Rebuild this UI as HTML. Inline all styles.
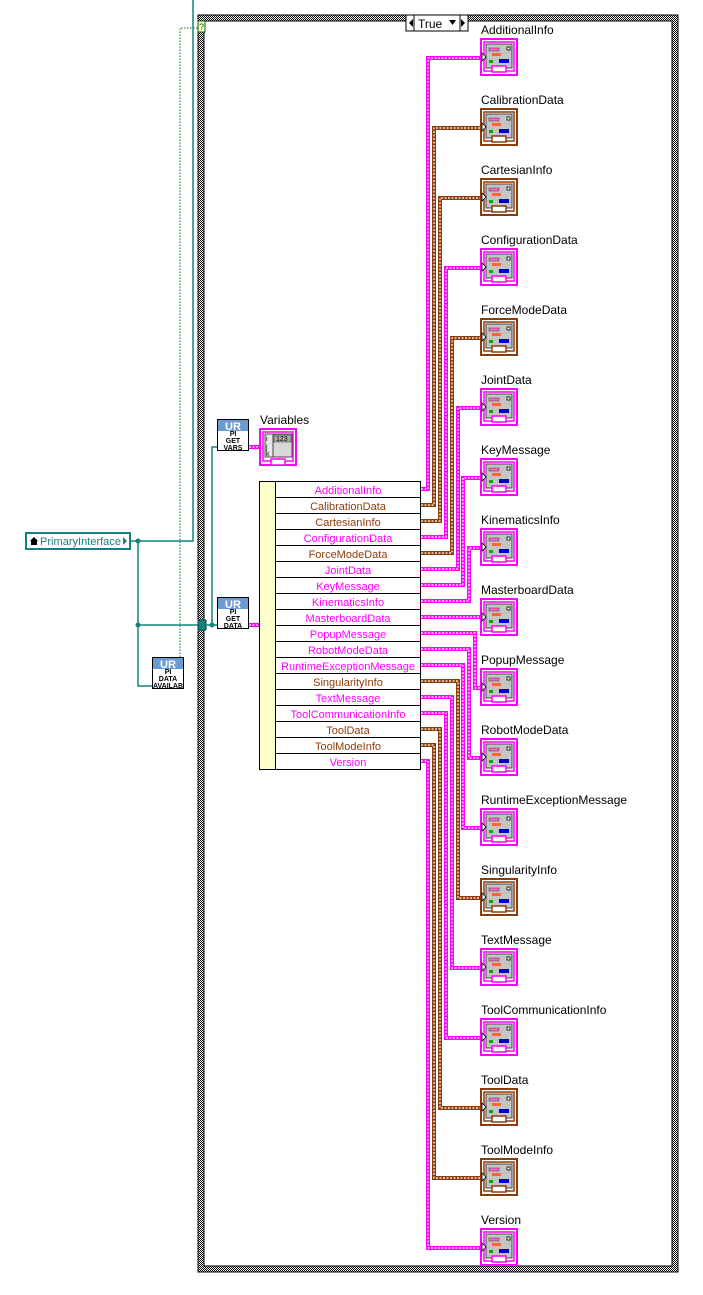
<!DOCTYPE html>
<html><head><meta charset="utf-8"><style>
html,body{margin:0;padding:0;background:#fff;width:703px;height:1295px;overflow:hidden}
text{font-family:"Liberation Sans",sans-serif}
</style></head><body>
<svg width="703" height="1295" viewBox="0 0 703 1295" xmlns="http://www.w3.org/2000/svg">
<defs>
<pattern id="chk" width="2" height="2" patternUnits="userSpaceOnUse"><rect width="2" height="2" fill="#fff"/><rect width="1" height="1" fill="#000"/><rect x="1" y="1" width="1" height="1" fill="#000"/></pattern>
<g id="ico">
<rect x="1" y="1" width="36" height="36" fill="#fff" stroke="currentColor" stroke-width="2"/>
<rect x="4" y="4" width="30" height="29" fill="none" stroke="currentColor" stroke-width="1.5"/>
<rect x="6" y="6" width="26" height="24" fill="#c4c4c4" stroke="#444" stroke-width="1"/>
<rect x="9" y="10" width="10" height="3" fill="#ff66cc" stroke="#333" stroke-width="0.5"/>
<rect x="27" y="9" width="3" height="3" fill="#fff" stroke="#000" stroke-width="0.8"/>
<rect x="12" y="15" width="9" height="3" fill="#ff6633"/>
<rect x="9" y="22" width="4" height="3" fill="#00aa00"/>
<rect x="19" y="21" width="10" height="4" fill="#0000cc"/>
<rect x="12" y="28" width="14" height="6" fill="#fff" stroke="currentColor" stroke-width="1.5"/>
<path d="M2,15 L6,19 L2,23 Z" fill="#fff" stroke="#000" stroke-width="0.8"/>
</g>
<g id="ur">
<rect x="0.5" y="0.5" width="31" height="31" fill="#fff" stroke="#000"/>
<rect x="1" y="1" width="30" height="11" fill="#6b9bd1"/>
<text x="16" y="11" font-size="11" font-weight="bold" fill="#fff" text-anchor="middle">UR</text>
</g>
</defs>

<path d="M193,0 V541 H130" fill="none" stroke="#17807a" stroke-width="1.5"/>
<path d="M138,541 V686 H152 M138,625 H200" fill="none" stroke="#17807a" stroke-width="1.5"/>
<circle cx="138" cy="541" r="2.5" fill="#17807a"/><circle cx="138" cy="625" r="2.5" fill="#17807a"/>
<path d="M180,657 V28 H199" fill="none" stroke="#008000" stroke-width="1" stroke-dasharray="1.5 1.5"/>

<rect x="198" y="15" width="480" height="1257" fill="url(#chk)" stroke="#000"/>
<rect x="204" y="21" width="468" height="1245" fill="#fff" stroke="#000"/>
<rect x="198" y="21" width="7" height="11" fill="#ffffcc" stroke="#006000"/>
<text x="201.5" y="30" font-size="9" fill="#006000" text-anchor="middle">?</text>
<rect x="406" y="15" width="62" height="16" fill="#fff" stroke="#000"/>
<line x1="414" y1="15" x2="414" y2="31" stroke="#000"/><line x1="460" y1="15" x2="460" y2="31" stroke="#000"/>
<path d="M409,23 L413,19 L413,27Z M465,23 L461,19 L461,27Z M449,20 H456 L452.5,25Z" fill="#000"/>
<text x="418" y="28" font-size="12" fill="#000">True</text>
<rect x="198" y="620" width="8" height="10" fill="#17807a" stroke="#0a4a46"/>

<rect x="26" y="533" width="104" height="16" fill="#fff" stroke="#17807a" stroke-width="2"/>
<path d="M30,541 L34,537 L38,541 H37 V545 H31 V541Z" fill="#000"/>
<text x="40" y="545" font-size="11" fill="#17807a" textLength="81" lengthAdjust="spacingAndGlyphs">PrimaryInterface</text>
<path d="M123,537 L127,541 L123,545Z" fill="#17807a"/>

<use href="#ur" x="152" y="657"/>
<text x="168" y="674" font-size="7" text-anchor="middle" font-weight="bold">PI</text>
<text x="168" y="681" font-size="7" text-anchor="middle" font-weight="bold">DATA</text>
<text x="168" y="688" font-size="7" text-anchor="middle" font-weight="bold">AVAILAB</text>

<path d="M206,625 H217 M212,625 V447 H217" fill="none" stroke="#17807a" stroke-width="1.5"/>
<circle cx="212" cy="625" r="2.5" fill="#17807a"/>
<use href="#ur" x="217" y="419"/>
<text x="233" y="436" font-size="7" text-anchor="middle" font-weight="bold">PI</text>
<text x="233" y="443" font-size="7" text-anchor="middle" font-weight="bold">GET</text>
<text x="233" y="450" font-size="7" text-anchor="middle" font-weight="bold">VARS</text>
<use href="#ur" x="217" y="597"/>
<text x="233" y="614" font-size="7" text-anchor="middle" font-weight="bold">PI</text>
<text x="233" y="621" font-size="7" text-anchor="middle" font-weight="bold">GET</text>
<text x="233" y="628" font-size="7" text-anchor="middle" font-weight="bold">DATA</text>

<g fill="none">
<path d="M249,447 H260 M249,625 H262" stroke="#ff00ff" stroke-width="4"/>
<path d="M249,447 H260 M249,625 H262" stroke="#fff" stroke-width="1.2" stroke-dasharray="2 1.5"/>
</g>
<path d="M262,622 L270,625 L262,628Z M260,624 H266" fill="#000" stroke="#000"/>

<text x="260" y="424" font-size="12" fill="#000">Variables</text>
<g>
<rect x="260" y="429" width="36" height="36" fill="#fff" stroke="#ff00ff" stroke-width="2"/>
<rect x="263" y="432" width="30" height="29" fill="none" stroke="#ff00ff" stroke-width="1.5"/>
<rect x="265" y="434" width="27" height="23" fill="#d8d8d8" stroke="#444"/>
<rect x="265" y="434" width="8" height="23" fill="#e8e8e8" stroke="#444"/>
<text x="266" y="441" font-size="7">i</text><text x="266" y="449" font-size="7">j</text><text x="266" y="456" font-size="7">k</text>
<rect x="274" y="435" width="17" height="7" fill="#aaa" stroke="#444" stroke-width="0.6"/>
<text x="276" y="441" font-size="7">123</text>
<rect x="271" y="459" width="14" height="6" fill="#fff" stroke="#ff00ff" stroke-width="1.5"/>
</g>

<rect x="259.5" y="481.5" width="16" height="288" fill="#ffffcc" stroke="#000"/>
<rect x="275.5" y="481.5" width="145" height="288" fill="#fff" stroke="#000"/>
<g stroke="#000">
<line x1="275" y1="497.5" x2="421" y2="497.5"/><line x1="275" y1="513.5" x2="421" y2="513.5"/><line x1="275" y1="529.5" x2="421" y2="529.5"/><line x1="275" y1="545.5" x2="421" y2="545.5"/><line x1="275" y1="561.5" x2="421" y2="561.5"/><line x1="275" y1="577.5" x2="421" y2="577.5"/><line x1="275" y1="593.5" x2="421" y2="593.5"/><line x1="275" y1="609.5" x2="421" y2="609.5"/><line x1="275" y1="625.5" x2="421" y2="625.5"/><line x1="275" y1="641.5" x2="421" y2="641.5"/><line x1="275" y1="657.5" x2="421" y2="657.5"/><line x1="275" y1="673.5" x2="421" y2="673.5"/><line x1="275" y1="689.5" x2="421" y2="689.5"/><line x1="275" y1="705.5" x2="421" y2="705.5"/><line x1="275" y1="721.5" x2="421" y2="721.5"/><line x1="275" y1="737.5" x2="421" y2="737.5"/><line x1="275" y1="753.5" x2="421" y2="753.5"/>
</g>
<g font-size="11" text-anchor="middle">
<text x="348" y="494" fill="#ff00ff">AdditionalInfo</text>
<text x="348" y="510" fill="#8c3c0a">CalibrationData</text>
<text x="348" y="526" fill="#8c3c0a">CartesianInfo</text>
<text x="348" y="542" fill="#ff00ff">ConfigurationData</text>
<text x="348" y="558" fill="#8c3c0a">ForceModeData</text>
<text x="348" y="574" fill="#ff00ff">JointData</text>
<text x="348" y="590" fill="#ff00ff">KeyMessage</text>
<text x="348" y="606" fill="#ff00ff">KinematicsInfo</text>
<text x="348" y="622" fill="#ff00ff">MasterboardData</text>
<text x="348" y="638" fill="#ff00ff">PopupMessage</text>
<text x="348" y="654" fill="#ff00ff">RobotModeData</text>
<text x="348" y="670" fill="#ff00ff">RuntimeExceptionMessage</text>
<text x="348" y="686" fill="#8c3c0a">SingularityInfo</text>
<text x="348" y="702" fill="#ff00ff">TextMessage</text>
<text x="348" y="718" fill="#ff00ff">ToolCommunicationInfo</text>
<text x="348" y="734" fill="#8c3c0a">ToolData</text>
<text x="348" y="750" fill="#8c3c0a">ToolModeInfo</text>
<text x="348" y="766" fill="#ff00ff">Version</text>
</g>

<g fill="none" stroke-width="4">
<g stroke="#ff00ff">
<path d="M421,489 H428 V58 H481"/>
<path d="M421,537 H446 V268 H481"/>
<path d="M421,569 H458 V408 H481"/>
<path d="M421,585 H463 V478 H481"/>
<path d="M421,601 H469 V548 H481"/>
<path d="M421,617 H481"/>
<path d="M421,633 H475 V688 H481"/>
<path d="M421,649 H469 V758 H481"/>
<path d="M421,665 H463 V828 H481"/>
<path d="M421,697 H452 V968 H481"/>
<path d="M421,713 H446 V1038 H481"/>
<path d="M421,761 H428 V1248 H481"/>
</g>
<g stroke="#8c3c0a">
<path d="M421,505 H434 V128 H481"/>
<path d="M421,521 H440 V198 H481"/>
<path d="M421,553 H452 V338 H481"/>
<path d="M421,681 H458 V898 H481"/>
<path d="M421,729 H440 V1108 H481"/>
<path d="M421,745 H434 V1178 H481"/>
</g>
<g stroke="#fff" stroke-width="1.2" stroke-dasharray="2 1.5">
<path d="M421,489 H428 V58 H481"/><path d="M421,537 H446 V268 H481"/><path d="M421,569 H458 V408 H481"/><path d="M421,585 H463 V478 H481"/><path d="M421,601 H469 V548 H481"/><path d="M421,617 H481"/><path d="M421,633 H475 V688 H481"/><path d="M421,649 H469 V758 H481"/><path d="M421,665 H463 V828 H481"/><path d="M421,697 H452 V968 H481"/><path d="M421,713 H446 V1038 H481"/><path d="M421,761 H428 V1248 H481"/>
<path d="M421,505 H434 V128 H481"/><path d="M421,521 H440 V198 H481"/><path d="M421,553 H452 V338 H481"/><path d="M421,681 H458 V898 H481"/><path d="M421,729 H440 V1108 H481"/><path d="M421,745 H434 V1178 H481"/>
</g>
</g>

<g font-size="12" fill="#000">
<text x="481" y="34">AdditionalInfo</text>
<text x="481" y="104">CalibrationData</text>
<text x="481" y="174">CartesianInfo</text>
<text x="481" y="244">ConfigurationData</text>
<text x="481" y="314">ForceModeData</text>
<text x="481" y="384">JointData</text>
<text x="481" y="454">KeyMessage</text>
<text x="481" y="524">KinematicsInfo</text>
<text x="481" y="594">MasterboardData</text>
<text x="481" y="664">PopupMessage</text>
<text x="481" y="734">RobotModeData</text>
<text x="481" y="804">RuntimeExceptionMessage</text>
<text x="481" y="874">SingularityInfo</text>
<text x="481" y="944">TextMessage</text>
<text x="481" y="1014">ToolCommunicationInfo</text>
<text x="481" y="1084">ToolData</text>
<text x="481" y="1154">ToolModeInfo</text>
<text x="481" y="1224">Version</text>
</g>
<g>
<use href="#ico" x="480" y="38" color="#ff00ff"/>
<use href="#ico" x="480" y="108" color="#8c3c0a"/>
<use href="#ico" x="480" y="178" color="#8c3c0a"/>
<use href="#ico" x="480" y="248" color="#ff00ff"/>
<use href="#ico" x="480" y="318" color="#8c3c0a"/>
<use href="#ico" x="480" y="388" color="#ff00ff"/>
<use href="#ico" x="480" y="458" color="#ff00ff"/>
<use href="#ico" x="480" y="528" color="#ff00ff"/>
<use href="#ico" x="480" y="598" color="#ff00ff"/>
<use href="#ico" x="480" y="668" color="#ff00ff"/>
<use href="#ico" x="480" y="738" color="#ff00ff"/>
<use href="#ico" x="480" y="808" color="#ff00ff"/>
<use href="#ico" x="480" y="878" color="#8c3c0a"/>
<use href="#ico" x="480" y="948" color="#ff00ff"/>
<use href="#ico" x="480" y="1018" color="#ff00ff"/>
<use href="#ico" x="480" y="1088" color="#8c3c0a"/>
<use href="#ico" x="480" y="1158" color="#8c3c0a"/>
<use href="#ico" x="480" y="1228" color="#ff00ff"/>
</g>
</svg>
</body></html>
